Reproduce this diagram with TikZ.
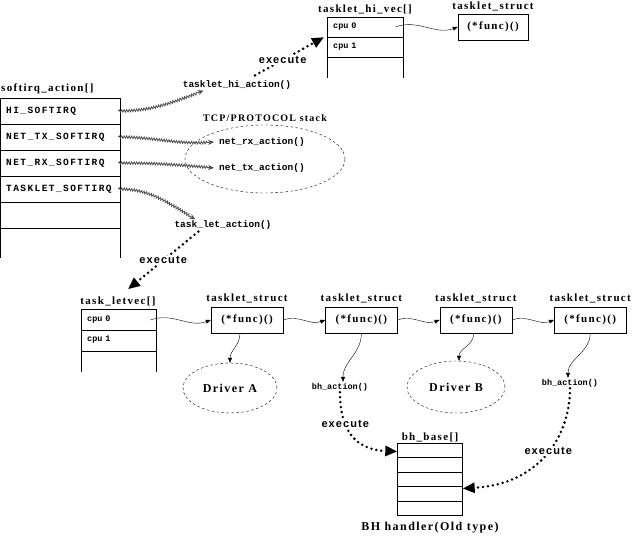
\documentclass[tikz,border=0pt]{standalone}
\usepackage{fontspec}
\newfontfamily\codefnt{Liberation Mono}
\newfontfamily\capsfnt[LetterSpace=15]{Liberation Mono}
\newfontfamily\headfnt[LetterSpace=12]{Liberation Serif}
\newfontfamily\execfnt[LetterSpace=10]{Liberation Sans}
\usetikzlibrary{arrows.meta,positioning,shapes.geometric,decorations.pathmorphing,calc}

\begin{document}
\begin{tikzpicture}[x=1pt,y=1pt,
  code/.style={font=\codefnt\bfseries\fontsize{9.5}{11}\selectfont, inner sep=1pt},
  cpu/.style={font=\codefnt\bfseries\fontsize{8.5}{10}\selectfont, anchor=west, inner xsep=6pt, minimum height=20pt},
  caps/.style={font=\capsfnt\bfseries\fontsize{9.5}{11}\selectfont, anchor=west, inner xsep=6pt, text width=106pt},
  head/.style={font=\headfnt\bfseries\fontsize{11}{13}\selectfont, inner sep=1pt},
  fbox/.style={draw, minimum width=72pt, minimum height=26pt, font=\headfnt\bfseries\fontsize{11}{13}\selectfont},
  bubble/.style={draw, dash pattern=on 2.5pt off 2.5pt, ellipse, inner sep=0pt, font=\headfnt\bfseries\fontsize{12}{14}\selectfont},
  wavy/.style={-{Triangle[length=5pt,width=4pt]}},
  hatch/.style={gray!60!black, line width=0.8pt, decorate,
    decoration={snake, amplitude=1.2pt, segment length=2.5pt, post length=6pt},
    -{Stealth[length=6pt,width=5pt]}},
  exec/.style={line width=2.8pt, dash pattern=on 0pt off 5pt, line cap=round,
    -{Triangle[length=12pt,width=10pt]}},
  exlabel/.style={font=\execfnt\bfseries\fontsize{11}{13}\selectfont, fill=white, inner sep=1pt}]
  \useasboundingbox (0,0) rectangle (633,536);

  % softirq_action[] table
  \node[head, anchor=west] (sa) at (0,447) {softirq\_action[]};
  \draw (0.5,278) -- (0.5,438) -- (120,438) -- (120,278);
  \foreach \y in {412,386,360,334,308} \draw (0.5,\y) -- (120,\y);
  \node[caps] (his) at (0,425) {HI\_SOFTIRQ};
  \node[caps] (nts) at (0,399) {NET\_TX\_SOFTIRQ};
  \node[caps] (nrs) at (0,373) {NET\_RX\_SOFTIRQ};
  \node[caps] (tls) at (0,347) {TASKLET\_SOFTIRQ};

  % action functions
  \node[code] (thia) at (237,451) {tasklet\_hi\_action()};
  \node[head, font=\headfnt\bfseries\fontsize{10}{12}\selectfont] (tcp) at (265,418) {TCP/PROTOCOL stack};
  \node[bubble, minimum width=160pt, minimum height=68pt] (stack) at (265,377) {};
  \node[code] (nrx) at (262,394) {net\_rx\_action()};
  \node[code] (ntx) at (262,368) {net\_tx\_action()};
  \node[code] (tla) at (223,311) {task\_let\_action()};

  \draw[hatch] (his.east) to[out=0,in=200] ([xshift=22pt]thia.south west);
  \draw[hatch] (nts.east) to[out=0,in=185] ([xshift=-4pt]nrx.west);
  \draw[hatch] (nrs.east) to[out=0,in=175] ([xshift=-4pt]ntx.west);
  \draw[hatch] (tls.east) to[out=0,in=150] ([xshift=22pt]tla.north west);

  % tasklet_hi_vec[]
  \node[head] (hv) at (365,527) {tasklet\_hi\_vec[]};
  \draw (327,458) -- (327,519) -- (403,519) -- (403,458);
  \foreach \y in {499,479} \draw (327,\y) -- (403,\y);
  \node[cpu, text width=56pt] (hcpu0) at (327,509) {cpu 0};
  \node[cpu, text width=56pt] (hcpu1) at (327,489) {cpu 1};
  \node[fbox, minimum width=70pt] (hf) at (493,509) {(*func)()};
  \node[head, above=2pt of hf] (hfl) {tasklet\_struct};
  \draw[wavy] (hcpu0.east) to[out=20,in=200] (hf.west);

  \draw[exec] ([xshift=18pt,yshift=4pt]thia.north) -- node[exlabel, pos=0.4] (ex1) {execute}
    ([xshift=-3pt]hcpu0.south west);

  % tasklet_vec[]
  \node[head] (tv) at (118,235) {task\_letvec[]};
  \draw (81,164) -- (81,227) -- (156,227) -- (156,164);
  \foreach \y in {206,185} \draw (81,\y) -- (156,\y);
  \node[cpu, text width=57pt] (cpu0) at (81,216) {cpu 0};
  \node[cpu, text width=57pt] (cpu1) at (81,196) {cpu 1};

  \draw[exec] ([xshift=25pt,yshift=-1pt]tla.south west) -- node[exlabel] (ex2) {execute}
    ([xshift=10pt,yshift=6pt]tv.north);

  % tasklet_struct chain
  \node[fbox] (f1) at (247,216) {(*func)()};
  \node[fbox, right=42pt of f1] (f2) {(*func)()};
  \node[fbox, right=42pt of f2] (f3) {(*func)()};
  \node[fbox, right=42pt of f3] (f4) {(*func)()};
  \foreach \n in {1,2,3,4}
    \node[head, above=3pt of f\n] (f\n l) {tasklet\_struct};
  \draw[wavy] (cpu0.east) to[out=20,in=200] (f1.west);
  \draw[wavy] (f1.east) to[out=20,in=200] (f2.west);
  \draw[wavy] (f2.east) to[out=20,in=200] (f3.west);
  \draw[wavy] (f3.east) to[out=20,in=200] (f4.west);

  % drivers and bh actions
  \node[bubble, minimum width=94pt, minimum height=50pt] (dra) at (230,148) {Driver A};
  \node[bubble, minimum width=98pt, minimum height=52pt] (drb) at (456,149) {Driver B};
  \node[code, font=\codefnt\bfseries\fontsize{8.5}{10}\selectfont] (bha1) at (340,149) {bh\_action()};
  \node[code, font=\codefnt\bfseries\fontsize{8.5}{10}\selectfont] (bha2) at (570,153) {bh\_action()};
  \draw[wavy] ([xshift=-7pt]f1.south) to[out=-90,in=90] (dra.north);
  \draw[wavy] (f2.south) to[out=-90,in=90] ([xshift=3pt]bha1.north);
  \draw[wavy] ([xshift=-2pt]f3.south) to[out=-90,in=90] ([xshift=3pt]drb.north);
  \draw[wavy] (f4.south) to[out=-90,in=90] ([xshift=-2pt]bha2.north);

  % bh_base[]
  \node[draw, minimum width=65pt, minimum height=14.5pt, anchor=north] (bb1) at (430,93) {};
  \node[draw, minimum width=65pt, minimum height=14.5pt, below=-0.4pt of bb1] (bb2) {};
  \node[draw, minimum width=65pt, minimum height=14.5pt, below=-0.4pt of bb2] (bb3) {};
  \node[draw, minimum width=65pt, minimum height=14.5pt, below=-0.4pt of bb3] (bb4) {};
  \node[draw, minimum width=65pt, minimum height=14.5pt, below=-0.4pt of bb4] (bb5) {};
  \node[head, anchor=base] (bbl) at (430,95) {bh\_base[]};
  \node[head, font=\headfnt\bfseries\fontsize{12}{14}\selectfont] (bhh) at (430,8) {BH handler(Old type)};

  \draw[exec] (bha1.south) .. controls (340,100) and (360,86) .. node[exlabel, pos=0.3] (ex3) {execute}
    ([yshift=-1pt]bb1.west);
  \draw[exec] (bha2.south) .. controls (570,100) and (540,52) .. node[exlabel, pos=0.47] (ex4) {execute}
    ([yshift=-2pt]bb4.north east);
\end{tikzpicture}
\end{document}
